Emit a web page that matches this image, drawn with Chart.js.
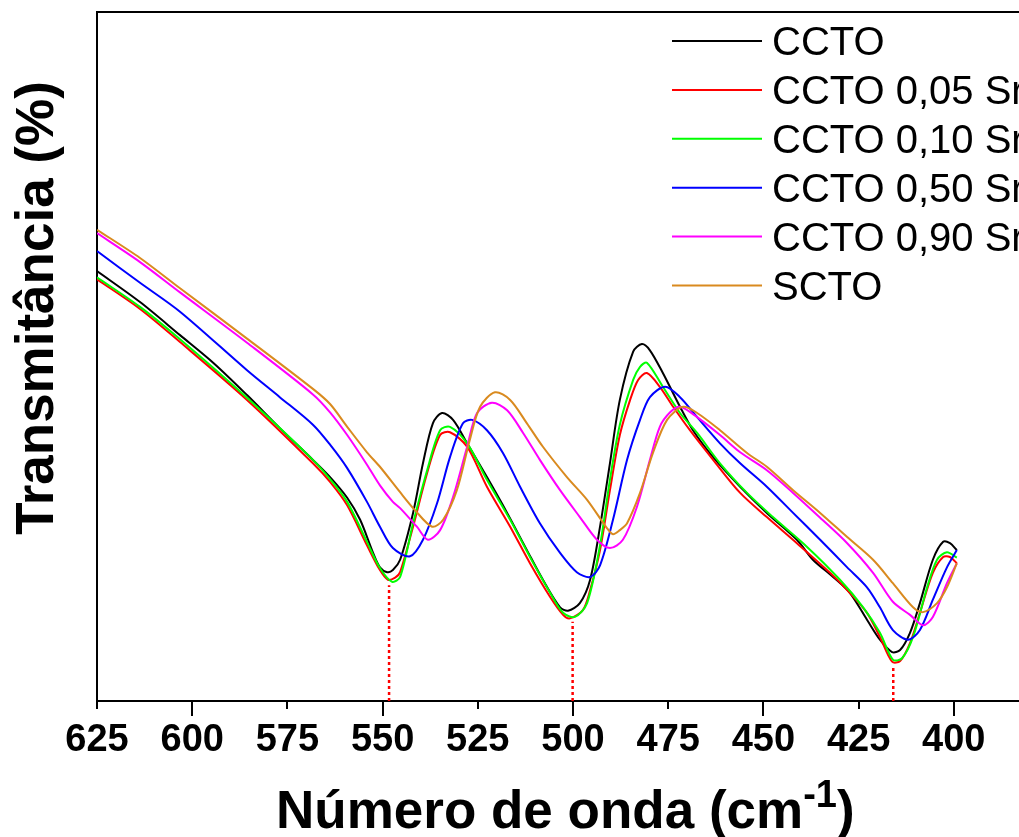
<!DOCTYPE html>
<html>
<head>
<meta charset="utf-8">
<script src="https://cdn.jsdelivr.net/npm/chart.js@4.4.0/dist/chart.umd.min.js"></script>
<style>
html, body { margin: 0; padding: 0; background: #fff; overflow: hidden; }
#wrap { width: 1050px; height: 837px; }
</style>
</head>
<body>
<div id="wrap"><canvas id="myChart" width="1050" height="837"></canvas></div>
<script>
// espectros FTIR, [numero de onda, transmitancia]
var ccto = [
  [625.0,62.4],[613.7,57.9],[603.2,53.1],[594.5,49.1],[585.6,44.4],[577.0,39.6],[568.3,35.0],[563.8,32.5],
  [559.3,29.5],[555.9,26.3],[552.5,21.5],[550.7,19.4],[548.8,18.7],[547.3,19.0],[545.4,20.5],[542.0,27.3],
  [539.4,34.5],[536.8,40.3],[534.4,41.8],[531.5,40.8],[527.8,37.4],[522.6,32.5],[517.3,27.3],[512.1,21.9],
  [507.9,17.6],[503.4,13.6],[501.3,13.1],[498.2,14.2],[495.5,17.6],[492.9,25.3],[490.3,34.5],[487.7,43.7],
  [484.2,50.7],[481.9,51.8],[479.8,50.9],[476.4,47.6],[471.9,42.7],[468.5,39.3],[463.2,35.4],[456.1,31.1],
  [449.1,27.3],[441.2,23.4],[437.0,20.5],[431.7,18.0],[427.3,15.7],[422.8,11.8],[419.4,8.9],[416.2,7.1],
  [414.1,7.4],[411.5,9.9],[408.9,14.2],[405.5,20.5],[402.8,23.1],[401.0,22.9],[399.2,21.9]
];
var ccto005 = [
  [625.0,61.2],[613.7,56.9],[603.2,52.1],[585.6,43.7],[568.3,34.5],[563.8,31.8],[559.3,28.4],[554.1,22.6],
  [550.7,19.0],[548.6,17.6],[546.7,17.9],[545.4,18.7],[542.0,25.3],[538.3,33.1],[534.9,38.6],[532.3,39.0],
  [527.8,36.9],[522.6,31.1],[516.5,25.3],[511.3,20.0],[506.0,15.1],[502.6,12.5],[500.8,12.0],[497.4,13.2],
  [495.5,16.1],[492.9,21.9],[490.3,30.6],[487.7,38.6],[485.0,43.7],[482.9,46.6],[480.6,47.6],[477.2,45.6],
  [473.7,42.7],[469.3,39.3],[463.2,35.0],[456.1,30.2],[449.1,26.7],[441.2,22.9],[432.5,18.6],[428.0,16.1],
  [422.8,12.8],[419.4,9.3],[416.2,5.7],[414.1,5.8],[411.5,8.4],[408.9,12.8],[405.5,18.6],[402.8,20.9],
  [401.0,20.9],[399.2,20.0]
];
var ccto010 = [
  [625.0,61.5],[613.7,57.2],[603.2,52.5],[585.6,44.0],[568.3,35.0],[563.8,32.2],[559.3,28.9],[554.1,23.1],
  [550.7,19.3],[547.5,17.3],[545.4,18.0],[542.0,25.8],[538.3,33.5],[534.9,39.3],[532.3,39.8],[527.8,37.4],
  [522.6,32.1],[516.5,26.3],[511.3,20.9],[506.0,15.7],[502.6,12.8],[499.5,12.2],[496.3,14.2],[492.9,22.6],
  [490.3,32.1],[487.7,40.1],[484.2,46.6],[482.4,48.5],[480.6,49.1],[476.4,45.6],[471.9,41.8],[467.4,38.9],
  [461.4,34.5],[454.3,30.2],[447.5,26.7],[438.6,22.4],[429.9,17.6],[423.8,13.6],[419.4,9.9],[416.0,6.0],
  [413.6,6.2],[410.7,9.3],[407.0,16.5],[404.4,20.5],[401.8,21.6],[399.2,20.8]
];
var ccto050 = [
  [625.0,65.3],[613.7,60.7],[603.2,56.5],[585.6,48.0],[577.0,44.1],[568.3,40.1],[563.8,37.2],[559.3,33.8],
  [554.1,28.9],[550.7,25.3],[547.3,22.2],[542.8,21.0],[539.4,23.4],[535.7,28.7],[532.3,35.4],[528.9,40.3],
  [526.5,40.8],[522.6,39.3],[518.4,36.0],[513.9,31.1],[508.7,25.8],[503.4,21.5],[499.0,18.7],[495.5,18.0],
  [492.9,19.7],[489.5,26.3],[485.8,35.0],[482.4,40.8],[479.8,44.1],[475.8,45.6],[471.9,44.1],[467.4,41.2],
  [461.4,37.4],[456.1,34.5],[449.1,31.1],[442.2,27.3],[435.1,23.4],[428.0,19.4],[422.8,16.5],[419.4,13.6],
  [416.0,10.3],[412.0,8.9],[408.9,10.3],[405.5,14.7],[401.8,19.4],[399.2,21.9]
];
var ccto090 = [
  [625.0,67.9],[613.7,63.7],[603.2,59.3],[585.6,52.0],[568.3,44.5],[563.8,41.9],[559.3,38.6],[554.1,34.3],
  [550.7,31.3],[547.3,28.9],[545.4,28.0],[541.0,25.3],[538.1,23.4],[534.9,24.8],[531.5,29.6],[527.8,36.9],
  [525.2,41.8],[521.3,43.3],[517.3,42.2],[513.1,38.9],[508.7,35.0],[503.4,30.6],[498.2,26.7],[493.7,23.4],
  [490.3,22.2],[486.9,23.4],[483.2,28.2],[479.8,35.0],[477.2,39.8],[474.5,41.9],[471.9,42.7],[467.4,41.2],
  [461.4,38.6],[456.1,36.1],[449.1,33.5],[442.2,30.2],[435.1,26.6],[428.0,22.9],[421.2,18.6],[416.0,14.4],
  [411.5,12.5],[408.1,11.0],[405.5,12.2],[401.8,17.1],[399.2,20.0]
];
var scto = [
  [625.0,68.4],[613.7,64.3],[603.2,59.9],[585.6,52.6],[568.3,45.3],[563.8,43.1],[559.3,39.8],[554.1,36.1],
  [550.7,34.0],[545.4,30.3],[541.5,27.7],[537.0,25.3],[534.1,26.3],[530.5,30.6],[527.1,37.9],[524.4,42.7],
  [520.5,44.8],[516.5,43.7],[512.1,40.3],[507.9,36.9],[501.6,32.5],[496.3,29.2],[491.1,25.1],[489.5,24.2],
  [487.7,24.8],[485.8,25.8],[482.4,30.2],[479.0,36.0],[475.3,40.8],[471.1,42.7],[467.4,41.8],[461.4,39.3],
  [454.3,36.0],[449.1,34.0],[442.2,30.6],[435.1,27.3],[428.0,23.8],[421.2,20.5],[416.0,17.1],[410.7,13.6],
  [408.1,12.9],[404.4,14.2],[401.8,16.5],[399.2,20.0]
];

var seriesNames = ["CCTO", "CCTO 0,05 Sr", "CCTO 0,10 Sr", "CCTO 0,50 Sr", "CCTO 0,90 Sr", "SCTO"];
var seriesColors = ["#000000", "#ff0000", "#00ff00", "#0000ff", "#ff00ff", "#d98a1f"];
var seriesData = [ccto, ccto005, ccto010, ccto050, ccto090, scto];

// linhas pontilhadas vermelhas nos minimos
var markerWn = [548.3, 500.1, 415.9];
var markerTop = [16.8, 11.5, 5.2];

var xTicks = [625, 600, 575, 550, 525, 500, 475, 450, 425, 400];

var fontFam = '"Liberation Sans", Arial, sans-serif';

var datasets = [];
for (var i = 0; i < seriesData.length; i++) {
    datasets.push({
        label: seriesNames[i],
        data: seriesData[i].map(function (p) { return { x: p[0], y: p[1] }; }),
        borderColor: seriesColors[i],
        borderWidth: 2,
        pointRadius: 0,
        tension: 0.3,
        order: 5 - i
    });
}
for (var j = 0; j < markerWn.length; j++) {
    datasets.push({
        label: '',
        isMarker: true,
        data: [{ x: markerWn[j], y: 0 }, { x: markerWn[j], y: markerTop[j] }],
        borderColor: '#ff0000',
        borderWidth: 2.5,
        borderDash: [3, 3],
        pointRadius: 0,
        order: 10
    });
}

var decoPlugin = {
    id: 'deco',
    afterDraw: function (chart) {
        var ctx = chart.ctx;
        var area = chart.chartArea;
        var xs = chart.scales.x;
        ctx.save();
        ctx.strokeStyle = '#000';
        ctx.lineWidth = 2;
        // borda de cima
        ctx.beginPath();
        ctx.moveTo(area.left - 1, area.top);
        ctx.lineTo(area.right, area.top);
        ctx.stroke();
        // ticks alternados
        xs.ticks.forEach(function (t) {
            if (xTicks.indexOf(t.value) < 0) return;
            var px = Math.round(xs.getPixelForValue(t.value));
            var len = t.value % 50 === 0 ? 15 : 8;
            ctx.beginPath();
            ctx.moveTo(px, area.bottom);
            ctx.lineTo(px, area.bottom + len);
            ctx.stroke();
        });
        // legenda
        ctx.fillStyle = '#000';
        ctx.font = '40px ' + fontFam;
        ctx.textAlign = 'left';
        ctx.textBaseline = 'alphabetic';
        var k = 0;
        chart.data.datasets.forEach(function (ds) {
            if (ds.isMarker) return;
            var ly = 41 + k * 48.9;
            ctx.strokeStyle = ds.borderColor;
            ctx.beginPath();
            ctx.moveTo(672, ly);
            ctx.lineTo(762, ly);
            ctx.stroke();
            ctx.fillText(ds.label, 772, ly + 14);
            k++;
        });
        // titulo eixo x com sobrescrito
        ctx.font = 'bold 53px ' + fontFam;
        var tx = 276, ty = 828;
        var part1 = 'Número de onda (cm';
        ctx.fillText(part1, tx, ty);
        tx += ctx.measureText(part1).width;
        ctx.font = 'bold 38px ' + fontFam;
        ctx.fillText('-1', tx, ty - 21);
        tx += ctx.measureText('-1').width;
        ctx.font = 'bold 53px ' + fontFam;
        ctx.fillText(')', tx, ty);
        // titulo eixo y
        ctx.translate(53, 308);
        ctx.rotate(-Math.PI / 2);
        ctx.textAlign = 'center';
        ctx.fillText('Transmitância (%)', 0, 0);
        ctx.restore();
    }
};

new Chart(document.getElementById('myChart'), {
    type: 'line',
    data: { datasets: datasets },
    options: {
        responsive: false,
        animation: false,
        devicePixelRatio: 1,
        layout: { padding: { top: 12, right: 1, left: 0, bottom: 0 } },
        plugins: { legend: { display: false }, tooltip: { enabled: false } },
        scales: {
            x: {
                type: 'linear',
                reverse: true,
                min: 375,
                max: 625,
                afterFit: function (s) {
                    s.height = 136;
                    s.paddingLeft = 0;
                    s.paddingRight = 0;
                },
                grid: { display: false, drawTicks: false },
                border: { display: true, color: '#000', width: 2 },
                ticks: {
                    stepSize: 25,
                    padding: 17,
                    autoSkip: false,
                    maxRotation: 0,
                    color: '#000',
                    font: { family: fontFam, size: 38, weight: 'bold' },
                    callback: function (v) { return xTicks.indexOf(v) >= 0 ? String(v) : ''; }
                }
            },
            y: {
                min: 0,
                max: 100,
                afterFit: function (s) { s.width = 97; },
                grid: { display: false, drawTicks: false },
                border: { display: true, color: '#000', width: 2 },
                ticks: { display: false }
            }
        }
    },
    plugins: [decoPlugin]
});
</script>
</body>
</html>
